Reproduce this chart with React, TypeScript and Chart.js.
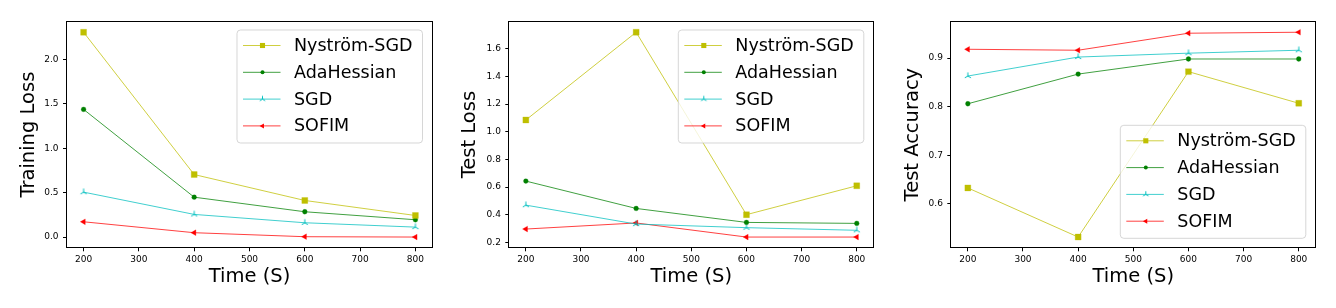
import React, { useEffect, useRef } from 'react';
import { Chart, registerables } from 'chart.js';

Chart.register(...registerables);

// ---------------- data ----------------
const timeSeconds = [200, 400, 600, 800];
const xTickValues = [200, 300, 400, 500, 600, 700, 800];
const seriesNames = ['Nyström-SGD', 'AdaHessian', 'SGD', 'SOFIM'];

const trainNystrom = [2.307, 0.704, 0.412, 0.243];
const trainAdaHessian = [1.438, 0.449, 0.285, 0.195];
const trainSGD = [0.506, 0.255, 0.161, 0.112];
const trainSOFIM = [0.172, 0.049, 0.004, 0.0];
const trainTicks = [0, 0.5, 1.0, 1.5, 2.0];

const testLossNystrom = [1.085, 1.72, 0.4, 0.609];
const testLossAdaHessian = [0.643, 0.445, 0.344, 0.337];
const testLossSGD = [0.469, 0.332, 0.306, 0.287];
const testLossSOFIM = [0.296, 0.34, 0.238, 0.238];
const testLossTicks = [0.2, 0.4, 0.6, 0.8, 1.0, 1.2, 1.4, 1.6];

const testAccNystrom = [0.633, 0.532, 0.872, 0.807];
const testAccAdaHessian = [0.806, 0.867, 0.898, 0.898];
const testAccSGD = [0.863, 0.902, 0.91, 0.916];
const testAccSOFIM = [0.918, 0.916, 0.951, 0.953];
const testAccTicks = [0.6, 0.7, 0.8, 0.9];

// ---------------- styles ----------------
const FONT = "'DejaVu Sans', 'Liberation Sans', sans-serif";
const HEIGHT = 308;
const CHART_TOP = 22;
const CHART_BOTTOM = 247.3;

function makeTriUp(color: string, size: number): HTMLCanvasElement {
  const c = document.createElement('canvas');
  const s = Math.ceil(size * 2 + 2);
  c.width = s;
  c.height = s;
  const ctx = c.getContext('2d')!;
  const cx = s / 2;
  const cy = s / 2;
  ctx.strokeStyle = color;
  ctx.lineWidth = 1;
  ctx.beginPath();
  ctx.moveTo(cx, cy);
  ctx.lineTo(cx, cy - size);
  ctx.moveTo(cx, cy);
  ctx.lineTo(cx - size * 0.866, cy + size * 0.5);
  ctx.moveTo(cx, cy);
  ctx.lineTo(cx + size * 0.866, cy + size * 0.5);
  ctx.stroke();
  return c;
}

type SeriesStyle = {
  color: string;
  pointStyle: any;
  radius: number;
  rotation: number;
  legendPointStyle: any;
  legendRadius: number;
};

function buildStyles(): SeriesStyle[] {
  return [
    { color: '#bfbf00', pointStyle: 'rect', radius: 4.2, rotation: 0, legendPointStyle: 'rect', legendRadius: 3.6 },
    { color: '#008000', pointStyle: 'circle', radius: 2.4, rotation: 0, legendPointStyle: 'circle', legendRadius: 2.0 },
    { color: '#00bfbf', pointStyle: makeTriUp('#00bfbf', 3.6), radius: 3.6, rotation: 0, legendPointStyle: makeTriUp('#00bfbf', 3.2), legendRadius: 3.2 },
    { color: '#ff0000', pointStyle: 'triangle', radius: 3.3, rotation: -90, legendPointStyle: 'triangle', legendRadius: 2.9 },
  ];
}

function drawMarker(ctx: CanvasRenderingContext2D, style: any, r: number, rotation: number, x: number, y: number, color: string) {
  ctx.save();
  ctx.fillStyle = color;
  ctx.strokeStyle = color;
  if (style instanceof HTMLCanvasElement) {
    ctx.drawImage(style, x - style.width / 2, y - style.height / 2);
  } else if (style === 'rect') {
    const s = Math.SQRT1_2 * r;
    ctx.fillRect(x - s, y - s, 2 * s, 2 * s);
  } else if (style === 'circle') {
    ctx.beginPath();
    ctx.arc(x, y, r, 0, Math.PI * 2);
    ctx.fill();
  } else if (style === 'triangle') {
    let rad = (rotation * Math.PI) / 180;
    ctx.beginPath();
    ctx.moveTo(x + Math.sin(rad) * r, y - Math.cos(rad) * r);
    rad += (2 * Math.PI) / 3;
    ctx.lineTo(x + Math.sin(rad) * r, y - Math.cos(rad) * r);
    rad += (2 * Math.PI) / 3;
    ctx.lineTo(x + Math.sin(rad) * r, y - Math.cos(rad) * r);
    ctx.closePath();
    ctx.fill();
  }
  ctx.restore();
}

type PanelProps = {
  left: number;
  width: number;
  chartLeft: number;
  chartRight: number;
  yTitleX: number;
  yLabel: string;
  series: number[][];
  yTicks: number[];
  legendCorner: 'top' | 'bottom';
};

function Panel(props: PanelProps) {
  const ref = useRef<HTMLCanvasElement | null>(null);

  useEffect(() => {
    const canvas = ref.current;
    if (!canvas) return;
    const styles = buildStyles();
    const all = props.series.flat();
    const dmin = Math.min(...all);
    const dmax = Math.max(...all);
    const margin = (dmax - dmin) * 0.05;
    const xMargin = (timeSeconds[timeSeconds.length - 1] - timeSeconds[0]) * 0.05;

    const datasets = props.series.map((vals, i) => ({
      label: seriesNames[i],
      data: vals.map((v, j) => ({ x: timeSeconds[j], y: v })),
      borderColor: styles[i].color,
      backgroundColor: styles[i].color,
      borderWidth: 0.75,
      pointStyle: styles[i].pointStyle,
      pointRadius: styles[i].radius,
      pointRotation: styles[i].rotation,
      pointBorderWidth: 0.3,
      pointBackgroundColor: styles[i].color,
      pointBorderColor: styles[i].color,
      tension: 0,
      fill: false,
    }));

    const titleLine = 19.5 * 1.2;

    const overlay = {
      id: 'frameLegend',
      afterDraw(chart: any) {
        const ctx: CanvasRenderingContext2D = chart.ctx;
        const a = chart.chartArea;
        ctx.save();
        // frame
        ctx.strokeStyle = '#000';
        ctx.lineWidth = 1;
        const l = Math.round(a.left) - 0.5;
        const t = Math.round(a.top) - 0.5;
        const r = Math.round(a.right) + 0.5;
        const b = Math.round(a.bottom) + 0.5;
        ctx.strokeRect(l, t, r - l, b - t);

        // legend
        const lw = 185.5;
        const lh = 113;
        const lx = a.right - 9.5 - lw;
        const ly = props.legendCorner === 'top' ? a.top + 8 : a.bottom - 9 - lh;
        const rr = 3.5;
        ctx.beginPath();
        ctx.moveTo(lx + rr, ly);
        ctx.lineTo(lx + lw - rr, ly);
        ctx.arcTo(lx + lw, ly, lx + lw, ly + rr, rr);
        ctx.lineTo(lx + lw, ly + lh - rr);
        ctx.arcTo(lx + lw, ly + lh, lx + lw - rr, ly + lh, rr);
        ctx.lineTo(lx + rr, ly + lh);
        ctx.arcTo(lx, ly + lh, lx, ly + lh - rr, rr);
        ctx.lineTo(lx, ly + rr);
        ctx.arcTo(lx, ly, lx + rr, ly, rr);
        ctx.closePath();
        ctx.fillStyle = 'rgba(255,255,255,0.8)';
        ctx.fill();
        ctx.strokeStyle = 'rgba(204,204,204,0.8)';
        ctx.lineWidth = 1;
        ctx.stroke();

        chart.data.datasets.forEach((ds: any, i: number) => {
          const cy = ly + 15.5 + i * 26.8;
          const st = styles[i];
          ctx.strokeStyle = st.color;
          ctx.lineWidth = 0.75;
          ctx.beginPath();
          ctx.moveTo(lx + 6, cy);
          ctx.lineTo(lx + 43.5, cy);
          ctx.stroke();
          drawMarker(ctx, st.legendPointStyle, st.legendRadius, st.rotation, lx + 25.5, cy, st.color);
          ctx.fillStyle = '#000';
          ctx.font = `17.5px ${FONT}`;
          ctx.textBaseline = 'middle';
          ctx.textAlign = 'left';
          ctx.fillText(ds.label, lx + 57, cy + 1);
        });
        ctx.restore();
      },
    };

    const chart = new Chart(canvas, {
      type: 'line',
      data: { datasets },
      options: {
        animation: false,
        responsive: false,
        devicePixelRatio: 1,
        layout: {
          padding: { top: CHART_TOP, right: props.width - props.chartRight, left: 0, bottom: 0 },
        },
        plugins: {
          legend: { display: false },
          tooltip: { enabled: false },
        },
        scales: {
          x: {
            type: 'linear',
            min: timeSeconds[0] - xMargin,
            max: timeSeconds[timeSeconds.length - 1] + xMargin,
            afterBuildTicks: (s: any) => {
              s.ticks = xTickValues.map((v) => ({ value: v }));
            },
            afterFit: (s: any) => {
              s.height = HEIGHT - CHART_BOTTOM;
            },
            grid: { display: true, drawOnChartArea: false, drawTicks: true, tickLength: 4, color: '#000', lineWidth: 1 },
            border: { display: false },
            ticks: {
              font: { family: FONT, size: 9 },
              color: '#000',
              padding: 3,
              maxRotation: 0,
              autoSkip: false,
              callback: (v: any) => String(v),
            },
            title: {
              display: true,
              text: 'Time (S)',
              font: { family: FONT, size: 19.5 },
              color: '#000',
              padding: { top: 0, bottom: 31 - titleLine / 2 },
            },
          },
          y: {
            type: 'linear',
            min: dmin - margin,
            max: dmax + margin,
            afterBuildTicks: (s: any) => {
              s.ticks = props.yTicks.map((v) => ({ value: v }));
            },
            afterFit: (s: any) => {
              s.width = props.chartLeft;
            },
            grid: { display: true, drawOnChartArea: false, drawTicks: true, tickLength: 4, color: '#000', lineWidth: 1 },
            border: { display: false },
            ticks: {
              font: { family: FONT, size: 9 },
              color: '#000',
              padding: 4.4,
              autoSkip: false,
              callback: (v: any) => Number(v).toFixed(1),
            },
            title: {
              display: true,
              text: props.yLabel,
              font: { family: FONT, size: 19.5 },
              color: '#000',
              padding: { top: props.yTitleX - titleLine / 2, bottom: 0 },
            },
          },
        },
      },
      plugins: [overlay],
    } as any);

    return () => {
      chart.destroy();
    };
  }, []);

  return (
    <canvas
      ref={ref}
      width={props.width}
      height={HEIGHT}
      style={{ position: 'absolute', left: props.left, top: 0, width: props.width, height: HEIGHT, display: 'block' }}
    />
  );
}

export default function App() {
  return (
    <div style={{ position: 'absolute', left: 0, top: 0, width: 1336, height: HEIGHT, background: '#fff', overflow: 'hidden' }}>
      <Panel
        left={0}
        width={445}
        chartLeft={67}
        chartRight={432}
        yTitleX={29}
        yLabel="Training Loss"
        series={[trainNystrom, trainAdaHessian, trainSGD, trainSOFIM]}
        yTicks={trainTicks}
        legendCorner="top"
      />
      <Panel
        left={445}
        width={445}
        chartLeft={64.3}
        chartRight={428.3}
        yTitleX={25}
        yLabel="Test Loss"
        series={[testLossNystrom, testLossAdaHessian, testLossSGD, testLossSOFIM]}
        yTicks={testLossTicks}
        legendCorner="top"
      />
      <Panel
        left={890}
        width={446}
        chartLeft={61.3}
        chartRight={425.3}
        yTitleX={22.7}
        yLabel="Test Accuracy"
        series={[testAccNystrom, testAccAdaHessian, testAccSGD, testAccSOFIM]}
        yTicks={testAccTicks}
        legendCorner="bottom"
      />
    </div>
  );
}
